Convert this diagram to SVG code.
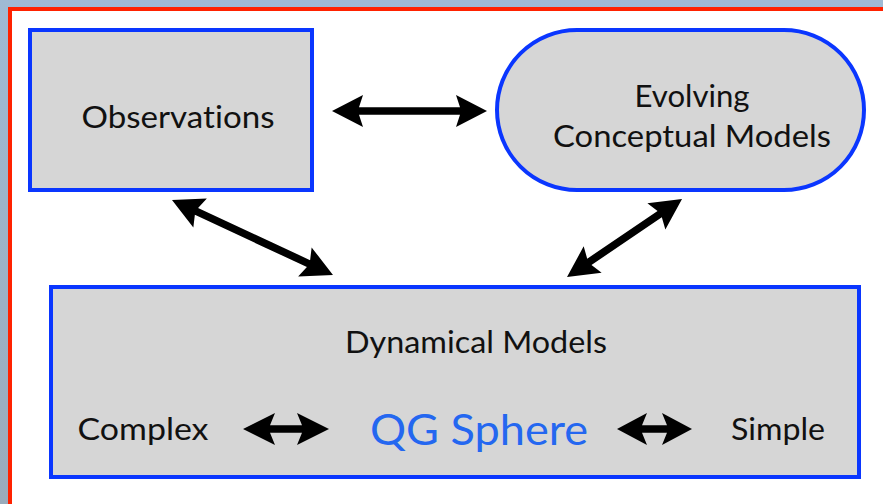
<svg xmlns="http://www.w3.org/2000/svg" width="883" height="504" viewBox="0 0 883 504">
<defs>
<linearGradient id="bg" x1="0" y1="0" x2="0" y2="1">
<stop offset="0" stop-color="#9fbad4"/>
<stop offset="1" stop-color="#9aabbb"/>
</linearGradient>
</defs>
<style>
.box{fill:#d6d6d6;stroke:#0a36ff;stroke-width:4}
.lbl{font-family:Lato,"Open Sans","DejaVu Sans",sans-serif;font-size:31.5px;fill:#111;font-variant-ligatures:none}
.qg{font-family:Lato,"Open Sans","DejaVu Sans",sans-serif;font-size:42px;fill:#2467f0}
.arr{fill:#000}
</style>
<rect x="0" y="0" width="883" height="504" fill="url(#bg)"/>
<rect x="10" y="9" width="900" height="520" fill="#fff" stroke="#ff2200" stroke-width="4"/>
<g id="observations">
<rect class="box" x="30" y="30" width="282" height="160"/>
<text class="lbl" x="178" y="128" text-anchor="middle" textLength="193" lengthAdjust="spacingAndGlyphs">Observations</text>
</g>
<g id="evolving">
<rect class="box" x="497" y="30" width="367" height="160" rx="80" ry="80"/>
<text class="lbl" x="692" y="107" text-anchor="middle" textLength="115" lengthAdjust="spacingAndGlyphs">Evolving</text>
<text class="lbl" x="692" y="147" text-anchor="middle" textLength="278" lengthAdjust="spacingAndGlyphs">Conceptual Models</text>
</g>
<g id="dynamical">
<rect class="box" x="51" y="287" width="808" height="190"/>
<text class="lbl" x="476" y="353" text-anchor="middle" textLength="262" lengthAdjust="spacingAndGlyphs">Dynamical Models</text>
<text class="lbl" x="143" y="440" text-anchor="middle" textLength="131" lengthAdjust="spacingAndGlyphs">Complex</text>
<text class="qg" x="479" y="445" text-anchor="middle" textLength="218" lengthAdjust="spacingAndGlyphs">QG Sphere</text>
<text class="lbl" x="778" y="440" text-anchor="middle" textLength="94" lengthAdjust="spacingAndGlyphs">Simple</text>
</g>
<g id="connectors" class="arr">
<path transform="translate(332,111)" d="M0,0 L31,-16 L27,-3.8 L128,-3.8 L124,-16 L155,0 L124,16 L128,3.8 L27,3.8 L31,16 Z"/>
<path transform="translate(172,200) rotate(24.98)" d="M0,0 L31,-16 L27,-3.8 L150.6,-3.8 L146.6,-16 L177.6,0 L146.6,16 L150.6,3.8 L27,3.8 L31,16 Z"/>
<path transform="translate(567,277) rotate(-34.15)" d="M0,0 L31,-16 L27,-3.8 L112,-3.8 L108,-16 L139,0 L108,16 L112,3.8 L27,3.8 L31,16 Z"/>
<path transform="translate(243,429)" d="M0,0 L32,-16 L27,-3.8 L59,-3.8 L54,-16 L86,0 L54,16 L59,3.8 L27,3.8 L32,16 Z"/>
<path transform="translate(617,429)" d="M0,0 L30,-16 L25,-3.8 L50,-3.8 L45,-16 L75,0 L45,16 L50,3.8 L25,3.8 L30,16 Z"/>
</g>
</svg>
